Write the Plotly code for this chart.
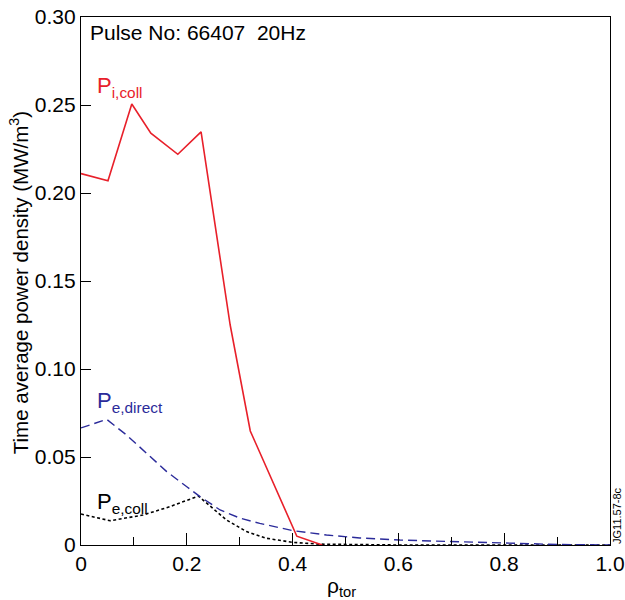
import plotly.graph_objects as go

# Pi,coll (red solid)
rho_icoll = [0.0, 0.051, 0.096, 0.132, 0.183, 0.227, 0.282, 0.320, 0.408, 0.456]
p_icoll = [0.211, 0.207, 0.2506, 0.234, 0.222, 0.2347, 0.125, 0.0648, 0.005, 0.0]

# Pe,direct (blue dashed)
rho_edir = [0.0, 0.0485, 0.086, 0.124, 0.162, 0.200, 0.225, 0.263, 0.301, 0.338, 0.401, 0.464, 0.527, 0.603, 0.698, 0.79, 0.9, 1.0]
p_edir = [0.0665, 0.0714, 0.0625, 0.0521, 0.0417, 0.0331, 0.0275, 0.0199, 0.0152, 0.0123, 0.0081, 0.0057, 0.0040, 0.0028, 0.0019, 0.0010, 0.0003, 0.0]

# Pe,coll (black dotted)
rho_ecoll = [0.0, 0.055, 0.117, 0.168, 0.222, 0.25, 0.275, 0.313, 0.351, 0.40, 0.45, 0.6, 0.8, 1.0]
p_ecoll = [0.0176, 0.0138, 0.017, 0.0218, 0.0278, 0.0208, 0.0142, 0.0076, 0.0038, 0.0015, 0.0005, 0.0, 0.0, 0.0]

ytick_vals = [0, 0.05, 0.10, 0.15, 0.20, 0.25, 0.30]
ytick_text = ["0", "0.05", "0.10", "0.15", "0.20", "0.25", "0.30"]
xtick_vals = [0, 0.2, 0.4, 0.6, 0.8, 1.0]
xtick_text = ["0", "0.2", "0.4", "0.6", "0.8", "1.0"]

FONT = "Liberation Sans, Arial, Helvetica, sans-serif"

fig = go.Figure()
fig.add_trace(go.Scatter(x=rho_ecoll, y=p_ecoll, mode="lines",
                         line=dict(color="black", width=1.6, dash="3px,2.5px"), showlegend=False))
fig.add_trace(go.Scatter(x=rho_edir, y=p_edir, mode="lines",
                         line=dict(color="#2b2b9a", width=1.4, dash="9px,5px"), showlegend=False))
fig.add_trace(go.Scatter(x=rho_icoll, y=p_icoll, mode="lines",
                         line=dict(color="#e8202a", width=1.6), showlegend=False))

fig.update_layout(
    width=625, height=600, autosize=False,
    margin=dict(l=81, r=15, t=17, b=55, autoexpand=False),
    paper_bgcolor="white", plot_bgcolor="white",
    font=dict(family=FONT, color="black", size=19),
    xaxis=dict(range=[0, 1.0], tickvals=xtick_vals, ticktext=xtick_text,
               ticks="inside", ticklen=12, tickcolor="black", tickwidth=1,
               minor=dict(dtick=0.1, tick0=0, ticks="inside", ticklen=8, tickcolor="black"),
               showline=True, linecolor="black", linewidth=1.2, mirror=True,
               showgrid=False, zeroline=False, tickfont=dict(size=21), automargin=False,
               ticklabeloverflow="allow"),
    yaxis=dict(range=[0, 0.30], tickvals=ytick_vals, ticktext=ytick_text,
               ticks="inside", ticklen=10, tickcolor="black", tickwidth=1,
               showline=True, linecolor="black", linewidth=1.2, mirror=True,
               showgrid=False, zeroline=False, tickfont=dict(size=21), automargin=False,
               ticklabeloverflow="allow"),
    annotations=[
        dict(x=-0.117, y=0.496, xref="paper", yref="paper",
             text="Time average power density (MW/m<sup>3</sup>)", textangle=-90,
             showarrow=False, xanchor="center", yanchor="middle", font=dict(size=20.5, color="black")),
        dict(x=0.493, y=-0.08, xref="paper", yref="paper", text="ρ<sub>tor</sub>",
             showarrow=False, xanchor="center", yanchor="middle", font=dict(size=21, color="black")),
        dict(x=0.013, y=0.291, xref="x", yref="y", text="Pulse No: 66407  20Hz",
             showarrow=False, xanchor="left", yanchor="middle", font=dict(size=21, color="black")),
        dict(x=0.026, y=0.260, xref="x", yref="y", text="P<sub>i,coll</sub>",
             showarrow=False, xanchor="left", yanchor="middle", font=dict(size=22, color="#e8202a")),
        dict(x=0.026, y=0.081, xref="x", yref="y", text="P<sub>e,direct</sub>",
             showarrow=False, xanchor="left", yanchor="middle", font=dict(size=22, color="#2b2b9a")),
        dict(x=0.026, y=0.024, xref="x", yref="y", text="P<sub>e,coll</sub>",
             showarrow=False, xanchor="left", yanchor="middle", font=dict(size=22, color="black")),
        dict(x=1.013, y=0.017, xref="paper", yref="y", text="JG11.57-8c", textangle=-90,
             showarrow=False, xanchor="center", yanchor="middle", font=dict(size=11, color="black")),
    ],
)

fig.write_html("out.html", config={"displayModeBar": False},
               post_script="document.body.style.margin='0';")
